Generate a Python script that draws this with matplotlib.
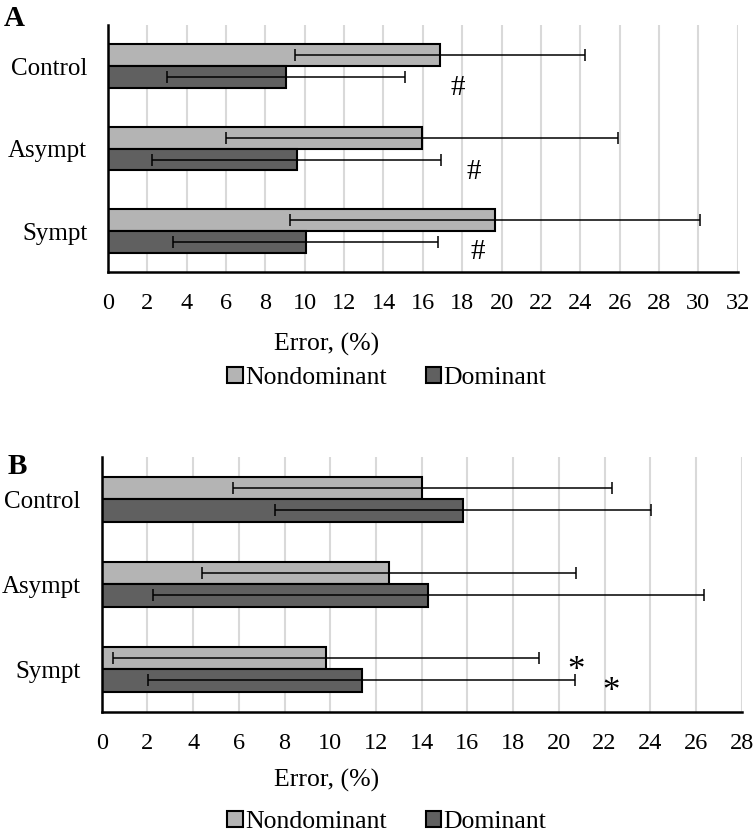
import numpy as np
import matplotlib.pyplot as plt

plt.rcParams['font.family'] = ['Liberation Serif', 'DejaVu Serif']

groups = ['Control', 'Asympt', 'Sympt']
series = ['Nondominant', 'Dominant']

# panel A
a_nondom = [16.87, 15.97, 19.66]
a_nondom_sd = [7.37, 9.95, 10.4]
a_dom = [9.03, 9.58, 10.04]
a_dom_sd = [6.04, 7.35, 6.75]
a_hash_x = [17.75, 18.6, 18.77]
a_hash_y = [0.27, 1.28, 2.25]

# panel B
b_nondom = [14.03, 12.57, 9.81]
b_nondom_sd = [8.28, 8.2, 9.3]
b_dom = [15.82, 14.29, 11.37]
b_dom_sd = [8.23, 12.05, 9.33]
b_star_x = [20.73, 22.27]
b_star_y = [1.98, 2.22]

light = '#b4b4b4'
dark = '#606060'
h = 0.265

fig = plt.figure(figsize=(7.54, 8.35), dpi=100)
W, H = 754, 835


def make_axes(left, top, right, bottom):
    return fig.add_axes([left / W, 1 - bottom / H, (right - left) / W, (bottom - top) / H])


def draw_panel(ax, nondom, nondom_sd, dom, dom_sd, xmax):
    y = np.arange(len(groups))
    ax.barh(y - h / 2, nondom, height=h, color=light, edgecolor='black', linewidth=1.5,
            label=series[0], zorder=2)
    ax.barh(y + h / 2, dom, height=h, color=dark, edgecolor='black', linewidth=1.5,
            label=series[1], zorder=2)
    ax.errorbar(nondom, y - h / 2, xerr=nondom_sd, fmt='none', ecolor='black',
                elinewidth=1.1, capsize=4.5, capthick=1.1, zorder=3)
    ax.errorbar(dom, y + h / 2, xerr=dom_sd, fmt='none', ecolor='black',
                elinewidth=1.1, capsize=4.5, capthick=1.1, zorder=3)
    ax.set_xlim(0, xmax)
    ax.set_ylim(len(groups) - 0.5, -0.5)
    ax.set_xticks(np.arange(0, xmax + 1, 2))
    ax.set_yticks(y)
    ax.set_yticklabels(groups)
    for g in np.arange(2, xmax + 1, 2):
        ax.axvline(g, color='#d9d9d9', linewidth=1.5, zorder=1)
    ax.spines['top'].set_visible(False)
    ax.spines['right'].set_visible(False)
    ax.spines['left'].set_linewidth(1.8)
    ax.spines['bottom'].set_linewidth(1.8)
    ax.tick_params(axis='x', length=0, pad=15, labelsize=17.5)
    ax.tick_params(axis='y', length=0, pad=15, labelsize=18)


axA = make_axes(108, 25, 737.7, 272.3)
draw_panel(axA, a_nondom, a_nondom_sd, a_dom, a_dom_sd, 32)
for x, y in zip(a_hash_x, a_hash_y):
    axA.text(x, y, '#', fontsize=21, ha='center', va='center')

axB = make_axes(101.7, 456.7, 741.7, 711.7)
draw_panel(axB, b_nondom, b_nondom_sd, b_dom, b_dom_sd, 28)
for x, y in zip(b_star_x, b_star_y):
    axB.text(x, y + 0.05, '*', fontsize=25, ha='center', va='center')

fig.text(327 / W, 1 - 344 / H, 'Error, (%)', fontsize=18.5, ha='center', va='center')
fig.text(327 / W, 1 - 780 / H, 'Error, (%)', fontsize=18.5, ha='center', va='center')

handles, labels = axA.get_legend_handles_labels()
for yc in [378, 822]:
    fig.legend(handles, labels, loc='center', bbox_to_anchor=(387 / W, 1 - yc / H),
               ncol=2, frameon=False, fontsize=18.5, handlelength=0.6, handleheight=0.6,
               handletextpad=0.1, columnspacing=1.5, borderaxespad=0)

fig.text(4 / W, 1 - 19 / H, 'A', fontsize=21, fontweight='bold', va='center')
fig.text(8 / W, 1 - 466 / H, 'B', fontsize=21, fontweight='bold', va='center')

fig.savefig('out.png', dpi=100)
